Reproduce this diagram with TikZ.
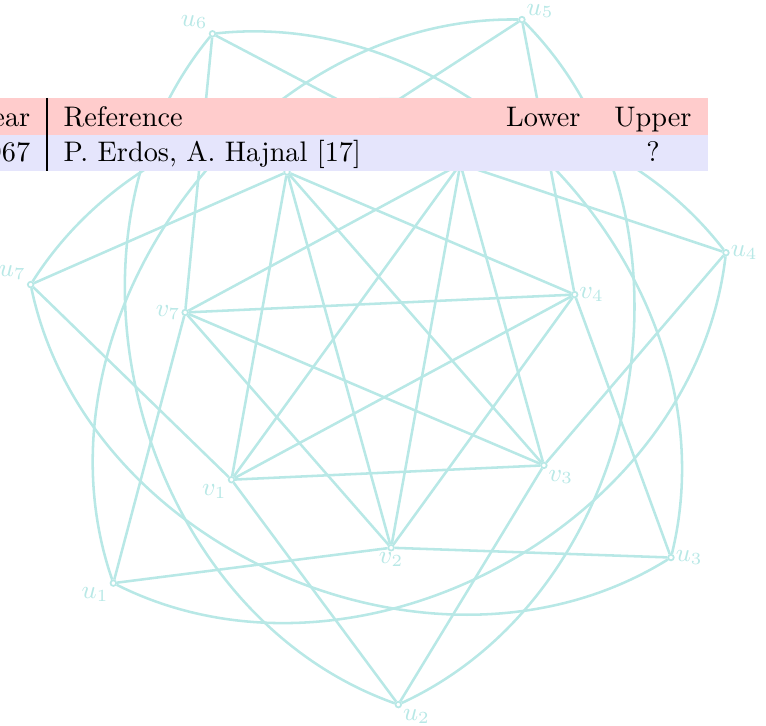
\documentclass[tikz,border=0pt]{standalone}
\usepackage{xcolor}
\definecolor{graphline}{HTML}{B8E8E6}
\definecolor{headrow}{HTML}{FFCCCC}
\definecolor{bodyrow}{HTML}{E5E5FC}

\tikzset{
  vtx/.style={circle,draw=graphline,fill=white,line width=0.6pt,inner sep=0pt,minimum size=2pt},
  edge/.style={draw=graphline,line width=0.9pt},
  lbl/.style={text=graphline,font=\small,inner sep=1.5pt},
}

\begin{document}
\begin{tikzpicture}
\useasboundingbox (0,0) rectangle (9.514,-9.017);
% the two heptagons of vertices
\begin{scope}[shift={(4.744,-4.322)}]
\foreach \i in {1,...,7} {
  \pgfmathsetmacro\ang{221.2+(\i-1)*360/7}
  \node[vtx] (u\i) at (\ang:4.434) {};
  \node[vtx] (v\i) at (\ang:2.484) {};
}
\end{scope}
% edges
\foreach \i in {1,...,7} {
  \pgfmathtruncatemacro\nxt{mod(\i,7)+1}
  \pgfmathtruncatemacro\two{mod(\i+1,7)+1}
  \pgfmathtruncatemacro\thr{mod(\i+2,7)+1}
  \draw[edge] (v\i) -- (v\two);
  \draw[edge] (v\i) -- (v\thr);
  \draw[edge] (u\i) -- (v\nxt);
  \draw[edge] (v\i) -- (u\nxt);
  \draw[edge] (u\i) to[bend right=55] (u\thr);
}
% vertex labels
\foreach \i/\pos in {1/below left,2/below right,3/right,4/right,6/above left,7/above left}
  \path (u\i) node[lbl,\pos] {$u_{\i}$};
\path (u5) node[lbl,right,yshift=3pt] {$u_5$};
\foreach \i/\pos in {1/below left,2/below,3/below right,4/right,7/left}
  \path (v\i) node[lbl,\pos] {$v_{\i}$};
% table row on top
\fill[headrow] (0,-1.217) rectangle (8.793,-1.677);
\fill[bodyrow] (0,-1.677) rectangle (8.793,-2.124);
\draw[line width=0.4pt] (0.584,-1.217) -- (0.584,-2.124);
\node[anchor=base west,inner sep=0pt] (year) at (-0.335,-1.565) {Year};
\node[anchor=base west,inner sep=0pt] (ref) at (0.782,-1.565) {Reference};
\node[anchor=base east,inner sep=0pt] (lower) at (7.216,-1.565) {Lower};
\node[anchor=base,inner sep=0pt] (upper) at (8.110,-1.565) {Upper};
\node[anchor=base west,inner sep=0pt] (yr) at (-0.335,-2.012) {1967};
\node[anchor=base west,inner sep=0pt] (auth) at (0.782,-2.012) {P. Erdos, A. Hajnal [17]};
\node[anchor=base,inner sep=0pt] (bound) at (8.110,-2.012) {?};
\end{tikzpicture}
\end{document}
